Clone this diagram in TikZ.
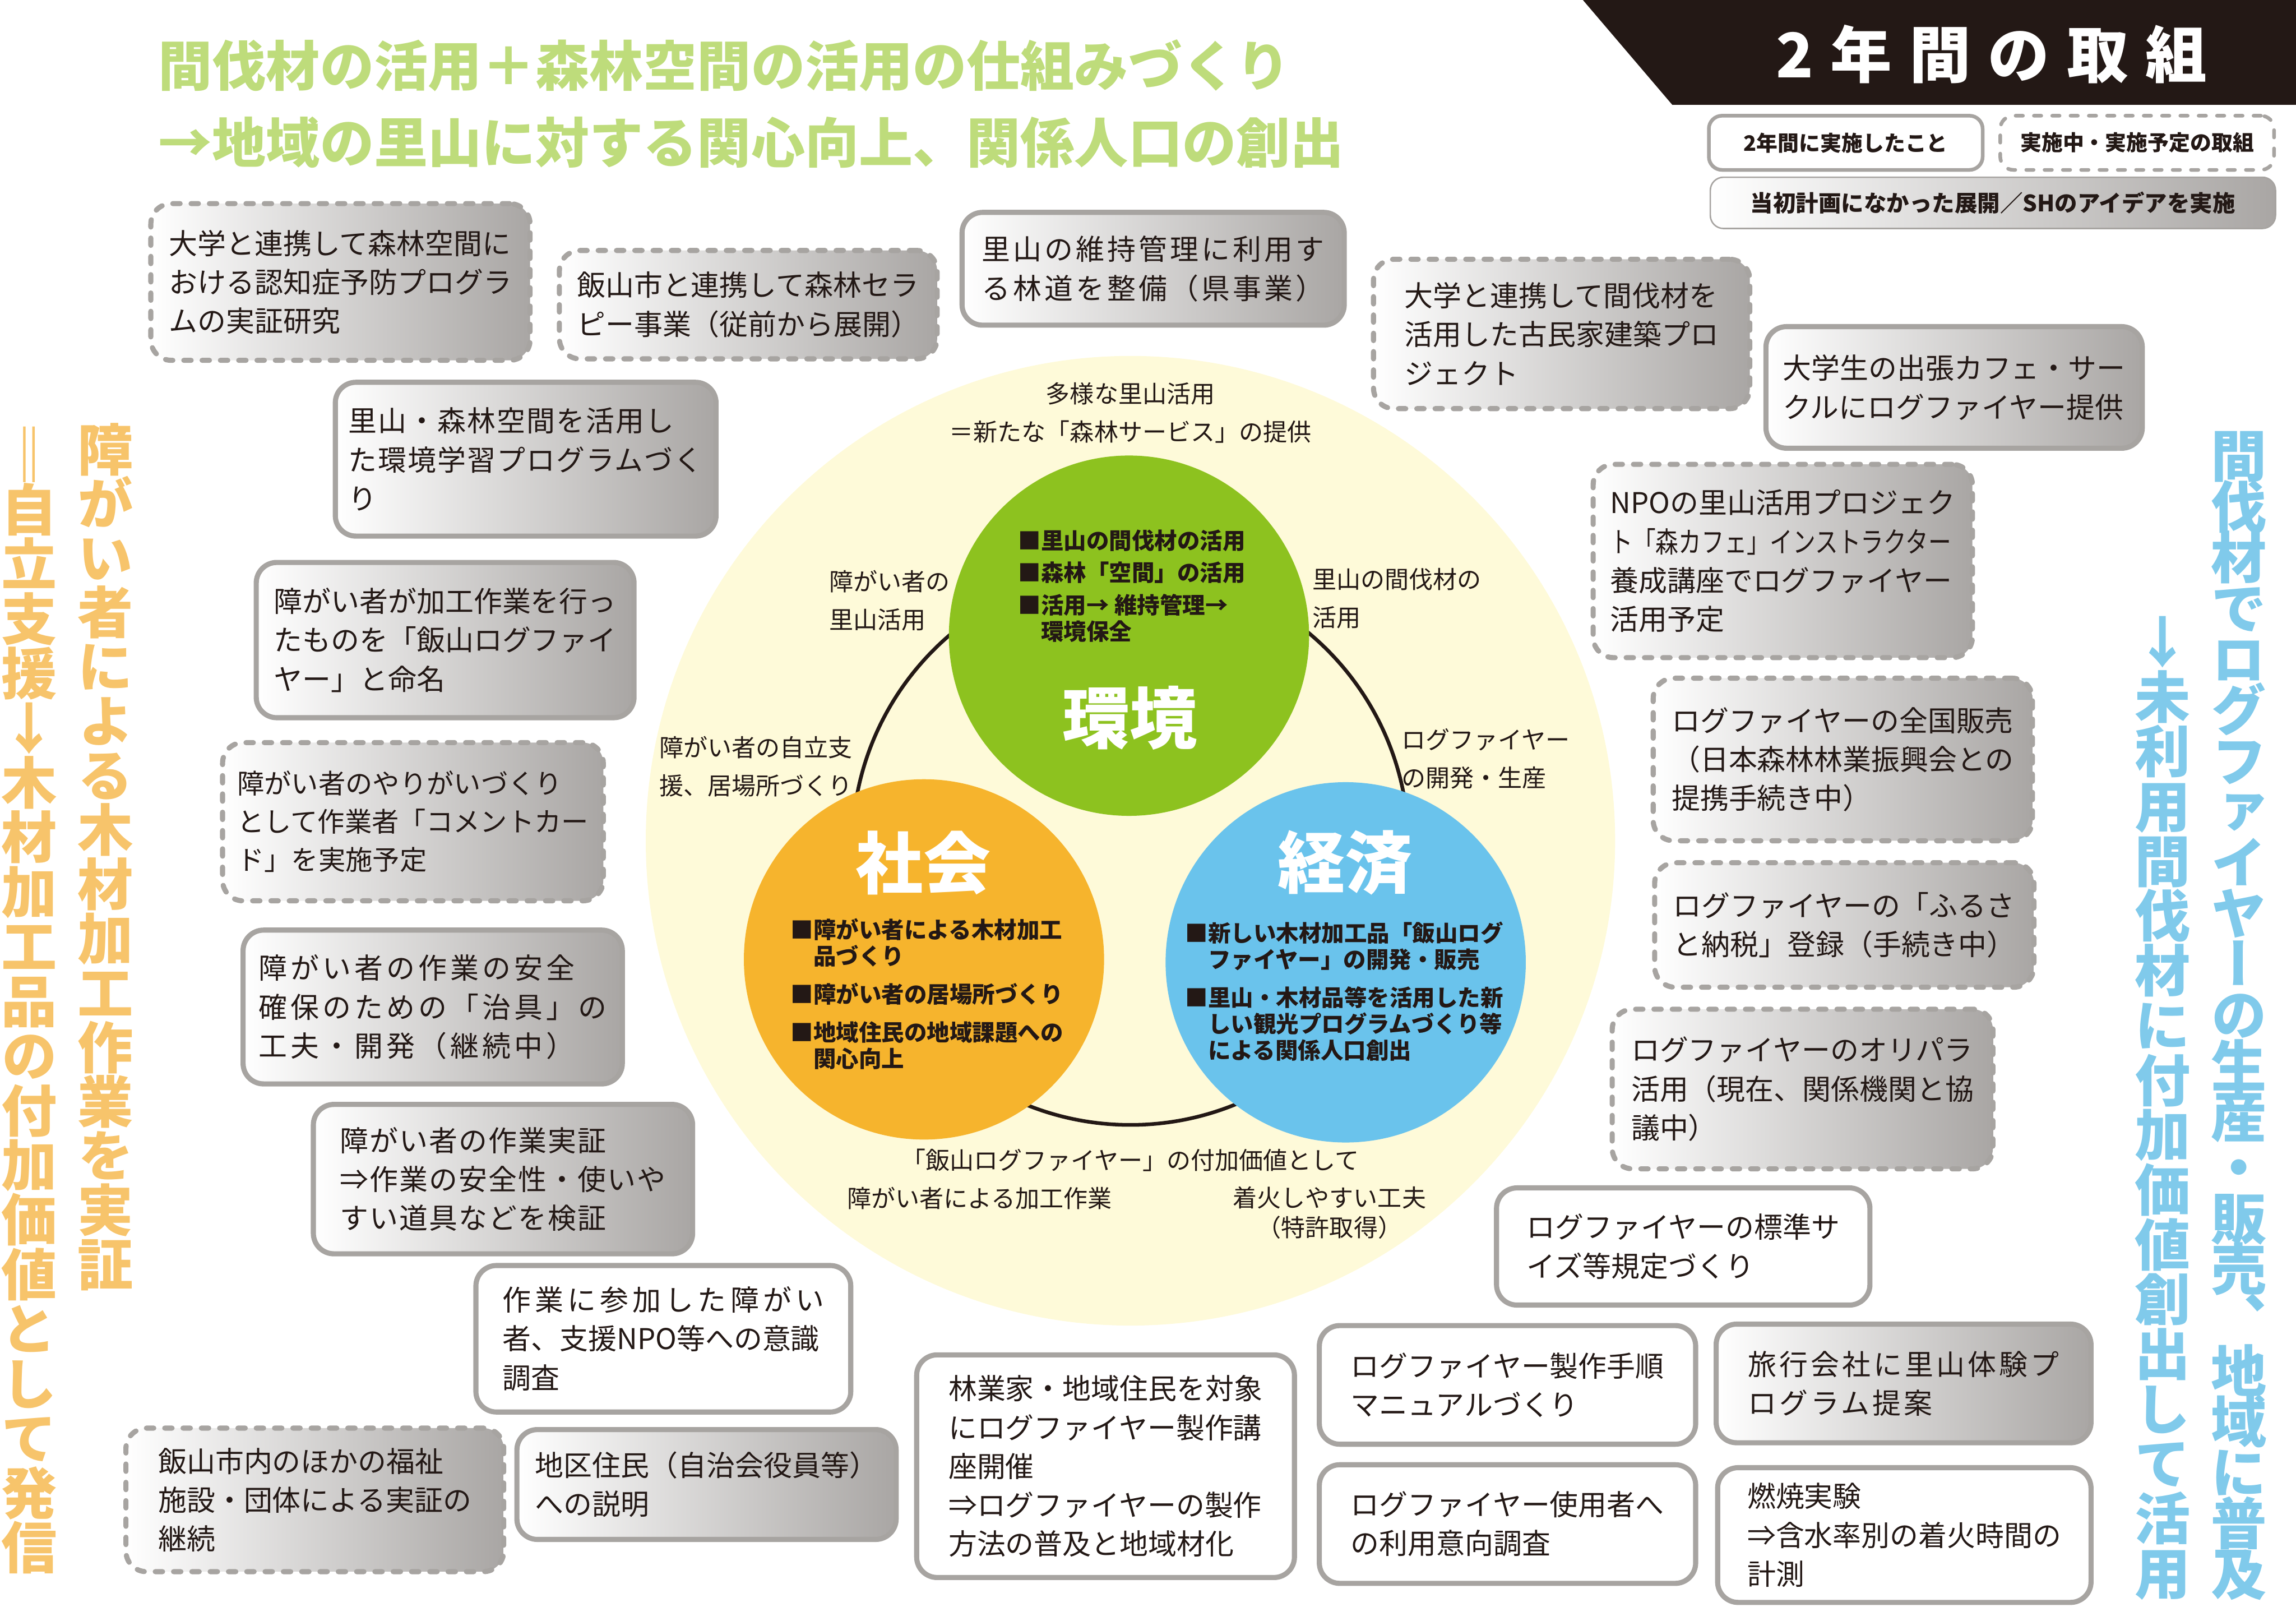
\documentclass[tikz,border=0pt]{standalone}
\usepackage{graphicx}
\usepackage{fontspec}
\setmainfont{Noto Sans CJK JP}
\newfontfamily\tatefont{Noto Sans CJK JP}[RawFeature=+vert]

\definecolor{ink}{HTML}{231815}
\definecolor{framegray}{HTML}{A7A4A1}
\definecolor{shadegray}{HTML}{A9A6A4}
\definecolor{paleyellow}{HTML}{FEFAD9}
\definecolor{kankyogreen}{HTML}{8DC21F}
\definecolor{shakaiorange}{HTML}{F6B42D}
\definecolor{keizaiblue}{HTML}{6AC3EC}
\definecolor{titlegreen}{HTML}{BEDC7B}
\definecolor{tateorange}{HTML}{F7C46B}
\definecolor{tateblue}{HTML}{80CAEB}

\newcommand{\boxfont}{\fontsize{19.5}{26.5}\selectfont}
\newcommand{\lblfont}{\fontsize{16.5}{26}\selectfont}
\newcommand{\itemfont}{\bfseries\fontsize{15.5}{18}\selectfont}
\newcommand{\legendfont}{\bfseries\fontsize{14.5}{16}\selectfont}
\newcommand{\spaced}[1]{\addfontfeature{LetterSpace=#1}}
\newcommand{\tatelines}{\lineskiplimit=-100pt\relax}

\begin{document}
\begin{tikzpicture}[x=1pt, y=-1pt,
    basebox/.style={rounded corners=14pt, inner sep=0pt, align=left, text=ink, font=\boxfont},
    framed/.style={draw=framegray, line width=3.5pt},
    dashline/.style={dash pattern=on 5pt off 7.5pt, line cap=round},
    donebox/.style={basebox, framed, fill=white},
    ideabox/.style={basebox, framed, left color=white, right color=shadegray},
    planbox/.style={ideabox, dashline},
    boxsize/.style 2 args={minimum width=#1pt, minimum height=#2pt},
    lbl/.style={text=ink, font=\lblfont, inner sep=0pt, align=center},
    items/.style={text=ink, font=\itemfont, inner sep=0pt, align=left},
    bigword/.style={text=white, font=\bfseries\fontsize{46}{46}\selectfont, inner sep=0pt},
    disc/.style={circle, inner sep=0pt, minimum size=#1pt},
    tate/.style={inner sep=0pt, align=center, font={\tatefont\bfseries\fontsize{38}{#1}\selectfont\tatelines}}]
\useasboundingbox (0,0) rectangle (1568,1097);

% title and header
\node[anchor=west, text=titlegreen, font=\bfseries\fontsize{36.8}{52.5}\selectfont, align=left, inner sep=0pt] (midashi) at (108,71)
    {間伐材の活用＋森林空間の活用の仕組みづくり\\→地域の里山に対する関心向上、関係人口の創出};
\fill[ink] (1081,0) -- (1568,0) -- (1568,71.5) -- (1142,71.5) -- cycle;
\node[text=white, font={\bfseries\fontsize{42}{42}\selectfont\spaced{28}}, inner sep=0pt] (torikumi) at (1360,37) {2年間の取組};

% legend
\node[basebox, framed, line width=2.5pt, rounded corners=9pt, fill=white, boxsize={187}{37}, font=\legendfont] (hanrei1) at (1260.5,97.5) {2年間に実施したこと};
\node[basebox, framed, dashline, line width=2.5pt, rounded corners=9pt, fill=white, boxsize={187}{37}, font=\legendfont] (hanrei2) at (1459.5,97.5) {実施中・実施予定の取組};
\node[basebox, draw=framegray, line width=1pt, rounded corners=9pt, left color=white, right color=shadegray, boxsize={386}{35}, font={\bfseries\fontsize{15.5}{16}\selectfont}] (hanrei3) at (1361,138.5) {当初計画になかった展開／SHのアイデアを実施};

% three circles
\node[disc=662, fill=paleyellow] (satoyama) at (772,574) {};
\node[disc=380, draw=ink, line width=2.5pt] (wa) at (772,578) {};
\node[disc=246, fill=kankyogreen] (kankyo) at (771,434) {};
\node[disc=246, fill=shakaiorange] (shakai) at (631,655) {};
\node[disc=246, fill=keizaiblue] (keizai) at (919,657) {};

\node[bigword] (kankyoword) at (771.5,490) {環境};
\node[bigword] (shakaiword) at (630.5,589) {社会};
\node[bigword] (keizaiword) at (918.5,589) {経済};

\node[items] (kankyoitems) at (773,400) {■里山の間伐材の活用\\[4pt]■森林「空間」の活用\\[4pt]■活用→ 維持管理→\\\hspace*{1em}環境保全};
\node[items] (shakaiitems) at (633,678.5) {■障がい者による木材加工\\\hspace*{1em}品づくり\\[8pt]■障がい者の居場所づくり\\[8pt]■地域住民の地域課題への\\\hspace*{1em}関心向上};
\node[items] (keizaiitems) at (918,677) {■新しい木材加工品「飯山ログ\\\hspace*{1em}ファイヤー」の開発・販売\\[8pt]■里山・木材品等を活用した新\\\hspace*{1em}しい観光プログラムづくり等\\\hspace*{1em}による関係人口創出};

\node[lbl] (tayo) at (772,282) {多様な里山活用\\＝新たな「森林サービス」の提供};
\node[lbl, anchor=west, align=left] (satoyamakatsuyo) at (566,410) {障がい者の\\里山活用};
\node[lbl, anchor=west, align=left] (kanbatsu) at (896,408.5) {里山の間伐材の\\活用};
\node[lbl, anchor=west, align=left] (jiritsu) at (450,523.5) {障がい者の自立支\\援、居場所づくり};
\node[lbl, anchor=west, align=left] (seisan) at (957,518) {ログファイヤー\\の開発・生産};
\node[lbl] (fuka) at (772,792) {「飯山ログファイヤー」の付加価値として};
\node[lbl] (kako) at (669,818) {障がい者による加工作業};
\node[lbl, font=\fontsize{16.5}{20.5}\selectfont] (chakka) at (908,828) {着火しやすい工夫\\（特許取得）};

% boxes, left
\node[planbox, boxsize={259}{107}] (ninchisho) at (232.5,192.5) {大学と連携して森林空間に\\おける認知症予防プログラ\\ムの実証研究};
\node[planbox, boxsize={258}{74}] (therapy) at (511,208) {飯山市と連携して森林セラ\\ピー事業（従前から展開）};
\node[ideabox, boxsize={261}{77}, font={\boxfont\spaced{10}}] (rindo) at (787.5,183.5) {里山の維持管理に利用す\\る林道を整備（県事業）};
\node[ideabox, boxsize={260}{105}, font={\boxfont\spaced{4}}] (gakushu) at (359,313.5) {里山・森林空間を活用し\\た環境学習プログラムづく\\り};
\node[ideabox, boxsize={258}{106}] (meimei) at (304,437) {障がい者が加工作業を行っ\\たものを「飯山ログファイ\\ヤー」と命名};
\node[planbox, boxsize={260}{108}, font={\fontsize{18.5}{26}\selectfont}] (comment) at (282,561) {障がい者のやりがいづくり\\として作業者「コメントカー\\ド」を実施予定};
\node[ideabox, boxsize={259}{105}, font={\boxfont\spaced{12}}] (jigu) at (295.5,687.5) {障がい者の作業の安全\\確保のための「治具」の\\工夫・開発（継続中）};
\node[ideabox, boxsize={259}{102}, font={\boxfont\spaced{4}}] (kensho) at (343.5,805) {障がい者の作業実証\\⇒作業の安全性・使いや\\すい道具などを検証};
\node[donebox, boxsize={256}{100}] (ishiki) at (453,914) {{\spaced{14}作業に参加した障がい}\\者、支援NPO等への意識\\調査};
\node[planbox, boxsize={258}{98}] (fukushi) at (215,1024) {飯山市内のほかの福祉\\施設・団体による実証の\\継続};
\node[ideabox, boxsize={259}{75}] (setsumei) at (482.5,1013.5) {地区住民（自治会役員等）\\への説明};

% boxes, bottom
\node[donebox, boxsize={258}{152}] (koza) at (755,1001) {林業家・地域住民を対象\\にログファイヤー製作講\\座開催\\⇒ログファイヤーの製作\\方法の普及と地域材化};
\node[donebox, boxsize={257}{81}] (manual) at (1029.5,945.5) {ログファイヤー製作手順\\マニュアルづくり};
\node[ideabox, boxsize={256}{81}, font={\boxfont\spaced{10}}] (ryoko) at (1300,944.5) {旅行会社に里山体験プ\\ログラム提案};
\node[donebox, boxsize={257}{81}] (iko) at (1029.5,1040.5) {ログファイヤー使用者へ\\の利用意向調査};
\node[donebox, boxsize={255}{92}] (nensho) at (1300.5,1048) {燃焼実験\\⇒含水率別の着火時間の\\計測};
\node[donebox, boxsize={255}{80}] (kitei) at (1149.5,851) {ログファイヤーの標準サ\\イズ等規定づくり};

% boxes, right
\node[planbox, boxsize={257}{102}] (kominka) at (1066.5,228) {大学と連携して間伐材を\\活用した古民家建築プロ\\ジェクト};
\node[ideabox, boxsize={257}{83}] (cafe) at (1334.5,264.5) {大学生の出張カフェ・サー\\クルにログファイヤー提供};
\node[planbox, boxsize={259}{132}] (morikafe) at (1217.5,383) {NPOの里山活用プロジェク\\\scalebox{0.8}[1]{ト「森カフェ」インストラクター}\\養成講座でログファイヤー\\活用予定};
\node[planbox, boxsize={259}{111}] (zenkoku) at (1258.5,518.5) {ログファイヤーの全国販売\\（日本森林林業振興会との\\提携手続き中）};
\node[planbox, boxsize={259}{85}] (furusato) at (1259.5,631.5) {ログファイヤーの「ふるさ\\と納税」登録（手続き中）};
\node[planbox, boxsize={260}{109}] (oripara) at (1231,743.5) {ログファイヤーのオリパラ\\活用（現在、関係機関と協\\議中）};

% vertical captions
\node[tate={37.1}, text=tateorange] (jisshoR) at (72,585) {障\\が\\い\\者\\に\\よ\\る\\木\\材\\加\\工\\作\\業\\を\\実\\証};
\node[tate={37.3}, text=tateorange] (hasshinL) at (20,683) {{\rmfamily ‖}\\自\\立\\支\\援\\↓\\木\\材\\加\\工\\品\\の\\付\\加\\価\\値\\と\\し\\て\\発\\信};
\node[tate={34.7}, text=tateblue] (fukyuR) at (1529,693.5) {間\\伐\\材\\で\\ロ\\グ\\フ\\ァ\\イ\\ヤ\\ー\\の\\生\\産\\・\\販\\売\\、\\地\\域\\に\\普\\及};
\node[tate={37.4}, text=tateblue] (katsuyoL) at (1477,756.5) {↓\\未\\利\\用\\間\\伐\\材\\に\\付\\加\\価\\値\\創\\出\\し\\て\\活\\用};
\end{tikzpicture}
\end{document}
